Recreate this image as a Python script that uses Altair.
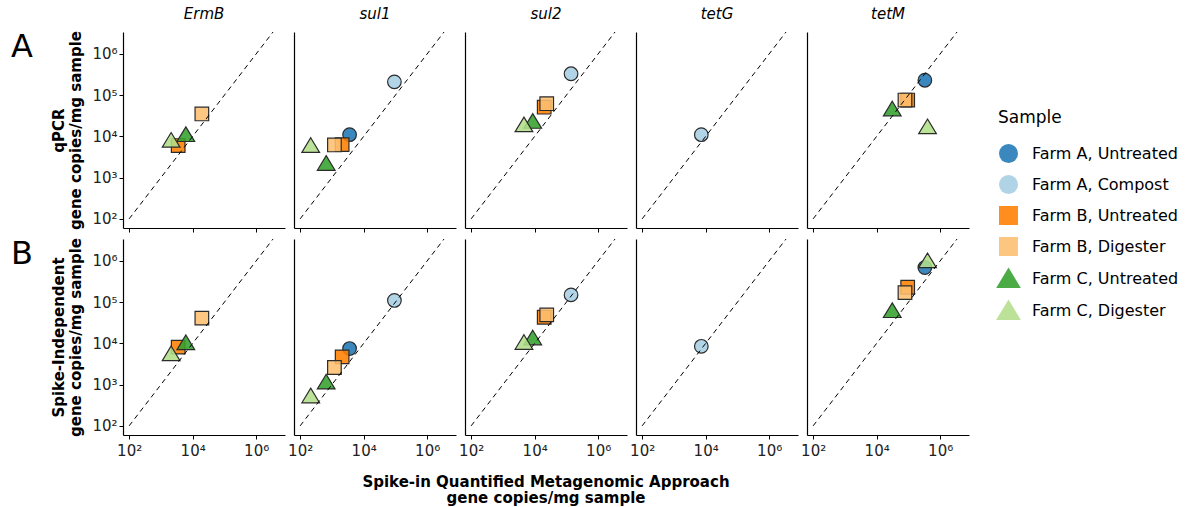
import altair as alt
import pandas as pd

genes = ["ErmB", "sul1", "sul2", "tetG", "tetM"]
samples = ["Farm A, Untreated", "Farm A, Compost", "Farm B, Untreated",
           "Farm B, Digester", "Farm C, Untreated", "Farm C, Digester"]
colors = ["#1F78B4", "#A6CEE3", "#FF7F00", "#FDBF6F", "#33A02C", "#B2DF8A"]
TRI = "M0,-1.15L1.3,1L-1.3,1Z"
shapes = ["circle", "circle", "square", "square", TRI, TRI]

point_gene = ["ErmB", "ErmB", "ErmB", "ErmB",
              "sul1", "sul1", "sul1", "sul1", "sul1", "sul1",
              "sul2", "sul2", "sul2", "sul2", "sul2",
              "tetG",
              "tetM", "tetM", "tetM", "tetM", "tetM"]
point_sample = ["Farm B, Untreated", "Farm B, Digester", "Farm C, Untreated", "Farm C, Digester",
                "Farm A, Untreated", "Farm A, Compost", "Farm B, Untreated", "Farm B, Digester",
                "Farm C, Untreated", "Farm C, Digester",
                "Farm A, Compost", "Farm B, Untreated", "Farm B, Digester", "Farm C, Untreated",
                "Farm C, Digester",
                "Farm A, Compost",
                "Farm A, Untreated", "Farm B, Untreated", "Farm B, Digester", "Farm C, Untreated",
                "Farm C, Digester"]
spike_in = [3.5e3, 1.95e4, 6.1e3, 2.1e3,
            3.6e3, 9.3e4, 2.1e3, 1.2e3, 660, 215,
            1.4e5, 2.0e4, 2.4e4, 8.7e3, 4.6e3,
            7.3e3,
            3.3e5, 9.5e4, 7.8e4, 3.1e4, 4.0e5]
qpcr = [6.0e3, 3.5e4, 1.1e4, 8.0e3,
        1.1e4, 2.1e5, 6.3e3, 6.2e3, 2.2e3, 6.0e3,
        3.3e5, 5.1e4, 6.2e4, 2.3e4, 1.9e4,
        1.1e4,
        2.3e5, 7.6e4, 7.6e4, 4.6e4, 1.7e4]
spike_indep = [8.1e3, 4.1e4, 1.03e4, 5.6e3,
               7.5e3, 1.1e5, 4.7e3, 2.6e3, 1.15e3, 530,
               1.5e5, 4.3e4, 4.9e4, 1.35e4, 1.05e4,
               8.5e3,
               6.9e5, 2.3e5, 1.7e5, 6.2e4, 1.0e6]

diag_vals = [1e2, 3.4e6]
row_values = [qpcr, spike_indep]
row_letters = ["A", "B"]
row_titles = [["qPCR", "gene copies/mg sample"],
              ["Spike-Independent", "gene copies/mg sample"]]
x_title = "Spike-in Quantified Metagenomic Approach\ngene copies/mg sample"
x_ticks = [1e2, 1e4, 1e6]
y_ticks = [1e2, 1e3, 1e4, 1e5, 1e6]

FONT = "DejaVu Sans"
sup_expr = ("datum.value == 100 ? '10²' : datum.value == 1000 ? '10³' : "
            "datum.value == 10000 ? '10⁴' : datum.value == 100000 ? '10⁵' : '10⁶'")

xscale = alt.Scale(type="log", domain=[64, 8.1e6], nice=False)
yscale = alt.Scale(type="log", domain=[60, 3.4e6], nice=False)

order_idx = {s: i for i, s in enumerate(samples)}
diag_df = pd.DataFrame({"spike": diag_vals, "val": diag_vals})

W, H = 162, 196


def panel(r, c):
    gene = genes[c]
    rows = [i for i, g in enumerate(point_gene) if g == gene]
    rows.sort(key=lambda i: order_idx[point_sample[i]])
    pts = pd.DataFrame({
        "sample": [point_sample[i] for i in rows],
        "spike": [spike_in[i] for i in rows],
        "val": [row_values[r][i] for i in rows],
    })

    xkw = dict(values=x_ticks, labelExpr=sup_expr, labels=(r == 1), ticks=True,
               tickSize=4, labelFontSize=15, labelPadding=4, grid=False, title="")
    if c == 0:
        ykw = dict(values=y_ticks, labelExpr=sup_expr, labels=True, ticks=True,
                   tickSize=4, labelFontSize=15, labelPadding=2, grid=False,
                   title=row_titles[r], titleFontSize=15, titleFontWeight="bold",
                   titlePadding=8)
    else:
        ykw = dict(labels=False, ticks=False, grid=False, title="")

    enc_x = alt.X("spike:Q", scale=xscale, axis=alt.Axis(**xkw))
    enc_y = alt.Y("val:Q", scale=yscale, axis=alt.Axis(**ykw))

    points = alt.Chart(pts).mark_point(
        filled=True, size=185, fillOpacity=0.88, stroke="#2b2b2b", strokeWidth=1.2, opacity=1
    ).encode(
        x=enc_x, y=enc_y,
        color=alt.Color("sample:N", scale=alt.Scale(domain=samples, range=colors),
                        legend=alt.Legend(title="Sample")),
        shape=alt.Shape("sample:N", scale=alt.Scale(domain=samples, range=shapes),
                        legend=alt.Legend(title="Sample")),
    )
    line = alt.Chart(diag_df).mark_line(
        color="black", strokeDash=[5, 4], strokeWidth=1
    ).encode(x=enc_x, y=enc_y)

    layers = [points, line]
    if c == 0:
        letter = alt.Chart(pd.DataFrame({"t": [row_letters[r]]})).mark_text(
            fontSize=32, font=FONT, align="left", baseline="alphabetic", color="black"
        ).encode(x=alt.value(-112), y=alt.value(25), text="t:N")
        layers.append(letter)
    if r == 1 and c == 2:
        xt = alt.Chart(pd.DataFrame({"t": [x_title]})).mark_text(
            fontSize=15, font=FONT, fontWeight="bold", align="center", baseline="top",
            lineBreak="\n", lineHeight=16, color="black"
        ).encode(x=alt.value(W / 2), y=alt.value(H + 40), text="t:N")
        layers.append(xt)

    ch = alt.layer(*layers).properties(width=W, height=H)
    if r == 0:
        ch = ch.properties(title=alt.TitleParams(gene, fontStyle="italic", fontWeight="normal",
                                                 fontSize=15, font=FONT, offset=8))
    return ch


panels = [panel(r, c) for r in range(2) for c in range(5)]
chart = alt.concat(*panels, columns=5, spacing={"row": 11, "column": 9},
                   bounds="flush").configure_view(stroke=None).configure_axis(
    domainColor="black", domainWidth=1.2, tickColor="black", labelColor="#222",
    titleColor="black", labelFont=FONT, titleFont=FONT
).configure_legend(
    titleFont=FONT, labelFont=FONT, titleFontSize=17, titleFontWeight="normal",
    labelFontSize=16, symbolSize=360, symbolStrokeColor="#2b2b2b", symbolStrokeWidth=1.2,
    rowPadding=6, titlePadding=16, labelOffset=13, symbolOpacity=0.88,
    padding=0, orient="none", legendX=875, legendY=78
).properties(padding={"left": 11, "top": 7, "right": 3, "bottom": 5})

chart.save("out.html", embed_options={"renderer": "svg", "actions": False})
